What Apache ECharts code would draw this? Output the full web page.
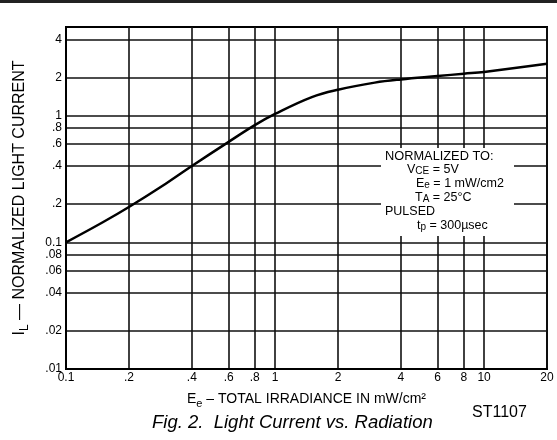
<!DOCTYPE html>
<html><head><meta charset="utf-8">
<script src="https://cdn.jsdelivr.net/npm/echarts@6/dist/echarts.min.js"></script>
<style>html,body{margin:0;padding:0;background:#fff}#c{width:557px;height:440px}</style>
</head><body><div id="c"></div>
<script>
const irradiance = [0.1, 0.15, 0.2, 0.3, 0.4, 0.6, 0.8, 1, 1.5, 2, 3, 4, 6, 8, 10, 20];
const lightCurrent = [0.1, 0.144, 0.19, 0.29, 0.40, 0.62, 0.84, 1.03, 1.4, 1.6, 1.82, 1.93, 2.05, 2.14, 2.21, 2.56];
const xTickValues = [0.1, 0.2, 0.4, 0.6, 0.8, 1, 2, 4, 6, 8, 10, 20];
const xTickLabels = ['0.1', '.2', '.4', '.6', '.8', '1', '2', '4', '6', '8', '10', '20'];
const yTickValues = [0.01, 0.02, 0.04, 0.06, 0.08, 0.1, 0.2, 0.4, 0.6, 0.8, 1, 2, 4];
const yTickLabels = ['.01', '.02', '.04', '.06', '.08', '0.1', '.2', '.4', '.6', '.8', '1', '2', '4'];

function lookup(vals, labels) {
  return function (v) {
    const i = vals.findIndex(t => Math.abs(Math.log10(t) - Math.log10(v)) < 1e-5);
    return i >= 0 ? labels[i] : '';
  };
}
const FONT = 'Liberation Sans, Arial, Helvetica, sans-serif';
const chart = echarts.init(document.getElementById('c'), null, {renderer: 'canvas'});
const grid = {left: 66, right: 10, top: 27, bottom: 71, show: true, borderColor: '#000', borderWidth: 2, backgroundColor: '#fff'};
const sub = (size, pad) => ({font: size + 'px ' + FONT, fill: '#000', padding: [pad, 0, 0, 0]});
const main = size => ({font: size + 'px ' + FONT, fill: '#000'});
chart.setOption({
  animation: false,
  backgroundColor: '#fff',
  grid: grid,
  xAxis: {
    type: 'log', logBase: 10, min: 0.1, max: 20,
    axisLine: {show: true, lineStyle: {color: '#000', width: 2}},
    axisTick: {show: false, customValues: xTickValues},
    axisLabel: {customValues: xTickValues, formatter: lookup(xTickValues, xTickLabels), color: '#000', fontSize: 12, margin: 3, fontFamily: FONT},
    splitLine: {show: true, lineStyle: {color: '#111', width: 1.6}},
    name: '{a|E}{s|e}{a| – TOTAL IRRADIANCE IN mW/cm²}',
    nameLocation: 'middle', nameGap: 21,
    nameTextStyle: {rich: {a: {fontSize: 14, color: '#000', fontFamily: FONT}, s: {fontSize: 11, color: '#000', fontFamily: FONT, padding: [8, 0, 0, 0]}}}
  },
  yAxis: {
    type: 'log', logBase: 10, min: 0.01, max: 5,
    axisLine: {show: true, lineStyle: {color: '#000', width: 2}},
    axisTick: {show: false, customValues: yTickValues},
    axisLabel: {customValues: yTickValues, formatter: lookup(yTickValues, yTickLabels), color: '#000', fontSize: 12, margin: 4, fontFamily: FONT},
    splitLine: {show: true, lineStyle: {color: '#111', width: 1.6}},
    name: '{a|I}{s|L}{a| — NORMALIZED LIGHT CURRENT}',
    nameLocation: 'middle', nameGap: 35, nameRotate: 90,
    nameTextStyle: {padding: [0, 0, 0, 0], rich: {a: {fontSize: 16, color: '#000', fontFamily: FONT}, s: {fontSize: 12, color: '#000', fontFamily: FONT, padding: [10, 0, 0, 0]}}}
  },
  series: [{
    type: 'line', smooth: 0.4, symbol: 'none',
    data: irradiance.map((x, i) => [x, lightCurrent[i]]),
    lineStyle: {color: '#000', width: 2.5}, z: 5
  }],
  graphic: [
    {type: 'rect', left: 0, top: 0, shape: {width: 557, height: 3}, style: {fill: '#222'}},
    {type: 'rect', left: 381, top: 148, shape: {width: 133, height: 88}, style: {fill: '#fff'}, z: 10},
    {type: 'text', left: 385, top: 150, z: 11, style: {text: 'NORMALIZED TO:', font: '12.8px ' + FONT, fill: '#000'}},
    {type: 'text', left: 407, top: 163, z: 11, style: {text: '{a|V}{s|CE}{a| = 5V}', rich: {a: main(12.5), s: sub(10, 4)}}},
    {type: 'text', left: 416, top: 177, z: 11, style: {text: '{a|E}{s|e}{a| = 1 mW/cm2}', rich: {a: main(12.5), s: sub(10, 4)}}},
    {type: 'text', left: 415, top: 191, z: 11, style: {text: '{a|T}{s|A}{a| = 25°C}', rich: {a: main(12.5), s: sub(10, 4)}}},
    {type: 'text', left: 385, top: 205, z: 11, style: {text: 'PULSED', font: '12.5px ' + FONT, fill: '#000'}},
    {type: 'text', left: 417, top: 219, z: 11, style: {text: '{a|t}{s|p}{a| = 300µsec}', rich: {a: main(12.5), s: sub(10, 4)}}},
    {type: 'text', left: 152, top: 413, style: {text: 'Fig. 2.  Light Current vs. Radiation', font: 'italic 18.5px ' + FONT, fill: '#000'}},
    {type: 'text', left: 472, top: 405, style: {text: 'ST1107', font: '16px ' + FONT, fill: '#000'}}
  ]
});
</script></body></html>
